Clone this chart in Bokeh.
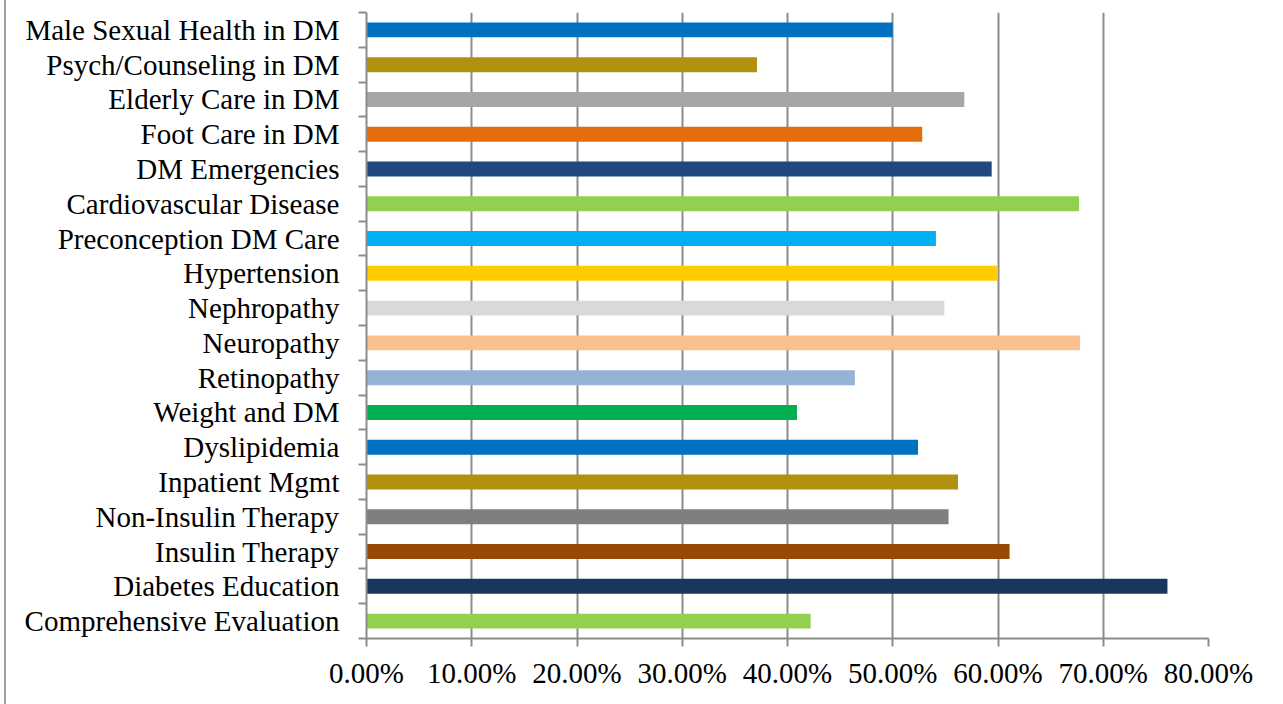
from bokeh.plotting import figure
from bokeh.models import FixedTicker, NumeralTickFormatter, ColumnDataSource, Range1d
from bokeh.embed import file_html
from bokeh.resources import INLINE

# Topics, listed top to bottom as they appear on the chart
topics = [
    "Male Sexual Health in DM",
    "Psych/Counseling in DM",
    "Elderly Care in DM",
    "Foot Care in DM",
    "DM Emergencies",
    "Cardiovascular Disease",
    "Preconception DM Care",
    "Hypertension",
    "Nephropathy",
    "Neuropathy",
    "Retinopathy",
    "Weight and DM",
    "Dyslipidemia",
    "Inpatient Mgmt",
    "Non-Insulin Therapy",
    "Insulin Therapy",
    "Diabetes Education",
    "Comprehensive Evaluation",
]

# Share of respondents (fraction)
shares = [
    0.500, 0.371, 0.568, 0.528, 0.594, 0.677, 0.541, 0.599, 0.549,
    0.678, 0.464, 0.409, 0.524, 0.562, 0.553, 0.611, 0.761, 0.422,
]

bar_colors = [
    "#0070C0", "#B09210", "#A6A6A6", "#E46C0A", "#1F497D", "#92D050",
    "#00B0F0", "#FFCC00", "#D9D9D9", "#FAC090", "#95B3D7", "#00B050",
    "#0070C0", "#B09210", "#7F7F7F", "#984807", "#17375E", "#92D050",
]

x_ticks = [0.0, 0.1, 0.2, 0.3, 0.4, 0.5, 0.6, 0.7, 0.8]

n = len(topics)
ypos = [n - 1 - i for i in range(n)]  # first topic at the top

src = ColumnDataSource(dict(y=ypos, share=shares, color=bar_colors, topic=topics))

FONT = "Liberation Serif"
GRID = "#8c8c8c"

p = figure(
    frame_width=842, frame_height=626,
    min_border_left=360, min_border_top=12, min_border_right=70, min_border_bottom=66,
    x_range=Range1d(0, 0.8), y_range=Range1d(-0.5, n - 0.5),
    output_backend="svg", toolbar_location=None,
)
p.styles = {"border-left": "2px solid #a0a0a0", "margin-left": "4px"}

p.hbar(y="y", left=0, right="share", height=0.43, color="color", line_color=None, source=src)

# X axis: percent ticks every 10%
p.xaxis.ticker = FixedTicker(ticks=x_ticks)
p.xaxis.formatter = NumeralTickFormatter(format="0.00%")
p.xaxis.major_tick_in = 0
p.xaxis.major_tick_out = 8
p.xaxis.minor_tick_line_color = None
p.xaxis.axis_line_color = GRID
p.xaxis.axis_line_width = 2
p.xaxis.major_tick_line_color = GRID
p.xaxis.major_tick_line_width = 2
p.xaxis.major_label_text_font = FONT
p.xaxis.major_label_text_font_size = "29px"
p.xaxis.major_label_text_color = "black"
p.xaxis.major_label_standoff = 10

# Y axis: labels at bar centres, tick marks between categories
p.yaxis.ticker = FixedTicker(ticks=ypos, minor_ticks=[k - 0.5 for k in range(n + 1)])
p.yaxis.major_label_overrides = {y: t for y, t in zip(ypos, topics)}
p.yaxis.major_tick_line_color = None
p.yaxis.major_tick_in = 0
p.yaxis.major_tick_out = 0
p.yaxis.minor_tick_in = 0
p.yaxis.minor_tick_out = 8
p.yaxis.minor_tick_line_color = GRID
p.yaxis.minor_tick_line_width = 2
p.yaxis.axis_line_color = GRID
p.yaxis.axis_line_width = 2
p.yaxis.major_label_text_font = FONT
p.yaxis.major_label_text_font_size = "29px"
p.yaxis.major_label_text_color = "black"
p.yaxis.major_label_standoff = 19

p.xgrid.ticker = FixedTicker(ticks=x_ticks)
p.xgrid.grid_line_color = GRID
p.xgrid.grid_line_width = 2
p.ygrid.grid_line_color = None
p.outline_line_color = None

open("out.html", "w").write(file_html(p, INLINE))
